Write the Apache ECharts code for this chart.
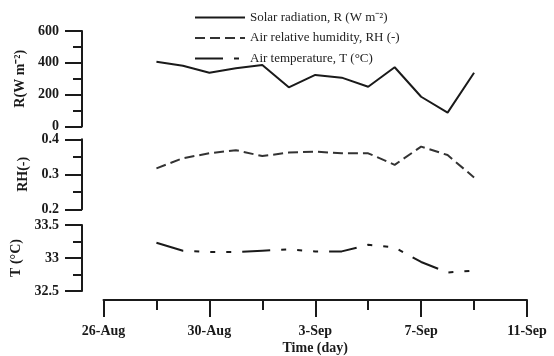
<!DOCTYPE html>
<html>
<head>
<meta charset="utf-8">
<script src="https://cdn.jsdelivr.net/npm/echarts@6/dist/echarts.min.js"></script>
<style>html,body{margin:0;padding:0;background:#fff;}#c{width:554px;height:356px;}</style>
</head>
<body>
<div id="c"></div>
<script>
// ---- data ----
var dates = ['28-Aug','29-Aug','30-Aug','31-Aug','1-Sep','2-Sep','3-Sep','4-Sep','5-Sep','6-Sep','7-Sep','8-Sep','9-Sep'];
var solarR = [407, 382, 338, 366, 386, 246, 324, 307, 250, 372, 187, 87, 338];
var humidityRH = [0.317, 0.346, 0.360, 0.369, 0.352, 0.362, 0.365, 0.360, 0.360, 0.327, 0.379, 0.355, 0.291];
var temperatureT = [33.23, 33.11, 33.09, 33.09, 33.11, 33.13, 33.10, 33.10, 33.20, 33.16, 32.94, 32.78, 32.81];
var xTickLabels = ['26-Aug','30-Aug','3-Sep','7-Sep','11-Sep'];
var seriesNames = ['Solar radiation, R (W m\u207B\u00B2)', 'Air relative humidity, RH (-)', 'Air temperature, T (\u00B0C)'];
var yNames = ['R(W m\u207B\u00B2)', 'RH(-)', 'T (\u00B0C)'];

// day offset from 26-Aug
function dayIndex(label) {
  var p = label.split('-');
  var d = parseInt(p[0], 10);
  return p[1] === 'Aug' ? d - 26 : d + 31 - 26;
}
function pairs(vals) { return vals.map(function (v, i) { return [dayIndex(dates[i]), v]; }); }

var FONT = 'Liberation Serif';
var INK = '#1a1a1a';
var LEFT = 103.5, RIGHT = 27, YOFF = 21.5;

function yAxis(idx, min, max, interval, name) {
  return {
    type: 'value', gridIndex: idx, min: min, max: max, interval: interval,
    position: 'left', offset: YOFF,
    name: name, nameLocation: 'middle', nameGap: 50, nameRotate: 90,
    nameTextStyle: { fontFamily: FONT, fontWeight: 'bold', fontSize: 14, color: INK },
    axisLine: { show: true, onZero: false, lineStyle: { color: INK, width: 2 } },
    axisTick: { show: true, inside: false, length: 17, lineStyle: { color: INK, width: 2 } },
    minorTick: { show: true, splitNumber: 2, length: 9, lineStyle: { color: INK, width: 2 } },
    splitLine: { show: false },
    axisLabel: { fontFamily: FONT, fontWeight: 'bold', fontSize: 14, color: INK, margin: 23 }
  };
}
function hiddenX(idx) {
  return { type: 'value', gridIndex: idx, min: 0, max: 16, interval: 4, show: false };
}

var option = {
  backgroundColor: '#fff',
  animation: false,
  legend: {
    orient: 'vertical', left: 194, top: 11, padding: 0, itemWidth: 50, itemHeight: 14, itemGap: 7.5,
    align: 'left',
    itemStyle: { opacity: 0 },
    textStyle: { fontFamily: FONT, fontSize: 13, color: '#222' },
    data: seriesNames
  },
  grid: [
    { left: LEFT, right: RIGHT, top: 31, height: 95.5 },
    { left: LEFT, right: RIGHT, top: 139.3, height: 70 },
    { left: LEFT, right: RIGHT, top: 225, height: 66 },
    { left: LEFT, right: RIGHT, top: 299, height: 1 }
  ],
  xAxis: [
    hiddenX(0), hiddenX(1), hiddenX(2),
    {
      type: 'value', gridIndex: 3, min: 0, max: 16, interval: 4, position: 'bottom',
      name: 'Time (day)', nameLocation: 'middle', nameGap: 41,
      nameTextStyle: { fontFamily: FONT, fontWeight: 'bold', fontSize: 14, color: INK },
      axisLine: { show: true, onZero: false, lineStyle: { color: INK, width: 2 } },
      axisTick: { show: true, inside: false, length: 17, lineStyle: { color: INK, width: 2 } },
      minorTick: { show: true, splitNumber: 2, length: 10, lineStyle: { color: INK, width: 2 } },
      splitLine: { show: false },
      axisLabel: {
        fontFamily: FONT, fontWeight: 'bold', fontSize: 14, color: INK, margin: 24,
        formatter: function (v) { return xTickLabels[Math.round(v / 4)] || ''; }
      }
    }
  ],
  yAxis: [
    yAxis(0, 0, 600, 200, yNames[0]),
    yAxis(1, 0.2, 0.4, 0.1, yNames[1]),
    yAxis(2, 32.5, 33.5, 0.5, yNames[2]),
    { type: 'value', gridIndex: 3, show: false }
  ],
  series: [
    { name: seriesNames[0], type: 'line', xAxisIndex: 0, yAxisIndex: 0, data: pairs(solarR),
      symbol: 'none', lineStyle: { color: INK, width: 2, type: 'solid' }, itemStyle: { color: INK } },
    { name: seriesNames[1], type: 'line', xAxisIndex: 1, yAxisIndex: 1, data: pairs(humidityRH),
      symbol: 'none', lineStyle: { color: '#333', width: 2, type: [10, 5] }, itemStyle: { color: '#333' } },
    { name: seriesNames[2], type: 'line', xAxisIndex: 2, yAxisIndex: 2, data: pairs(temperatureT),
      symbol: 'none', lineStyle: { color: INK, width: 2, type: [28, 11, 5, 11, 5, 11, 5, 11] }, itemStyle: { color: INK } }
  ]
};
var chart = echarts.init(document.getElementById('c'), null, { renderer: 'canvas' });
chart.setOption(option);
</script>
</body>
</html>
